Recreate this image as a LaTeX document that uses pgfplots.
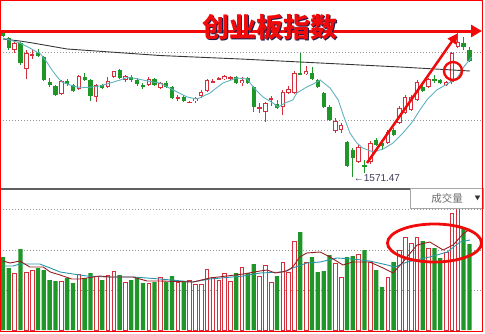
\documentclass[border=0pt]{standalone}
\usepackage{pgfplots}
\pgfplotsset{compat=1.18}
\usepackage{pgfplotstable}
\usepackage{fontspec}
\setmainfont{Liberation Sans}
\newfontfamily\cjk{Noto Sans CJK SC}
\usetikzlibrary{arrows.meta}

\definecolor{kgreen}{RGB}{30,150,40}
\definecolor{kred}{RGB}{214,46,58}
\definecolor{maline}{RGB}{95,178,192}
\definecolor{longma}{RGB}{55,55,55}
\definecolor{vmaroon}{RGB}{150,30,35}
\definecolor{vteal}{RGB}{40,150,170}
\definecolor{gridgray}{RGB}{150,150,150}
\definecolor{markred}{RGB}{240,10,10}
\definecolor{shadow}{RGB}{20,30,80}

% daily candles: index, open, high, low, close, volume
\pgfplotstableread{
x  o       h       l       c       v
0  1861.5  1865.5  1851.5  1853.5  73
1  1849.5  1851.5  1825.5  1829.5  62
3  1839.5  1841.5  1795.5  1799.5  81
6  1819.5  1827.5  1811.5  1813.5  62
7  1811.5  1813.5  1763.5  1765.5  60
8  1761.5  1769.5  1751.5  1755.5  50
9  1753.5  1755.5  1733.5  1735.5  49
11 1763.5  1767.5  1753.5  1757.5  52
12 1755.5  1757.5  1741.5  1743.5  47
14 1771.5  1779.5  1763.5  1765.5  52
15 1765.5  1767.5  1723.5  1733.5  57
17 1755.5  1757.5  1747.5  1749.5  50
20 1785.5  1787.5  1767.5  1769.5  55
22 1771.5  1775.5  1761.5  1765.5  50
23 1765.5  1769.5  1753.5  1757.5  52
24 1755.5  1759.5  1747.5  1753.5  47
26 1767.5  1769.5  1753.5  1755.5  48
28 1759.5  1763.5  1749.5  1751.5  48
29 1751.5  1753.5  1727.5  1729.5  54
31 1731.5  1735.5  1721.5  1723.5  49
40 1771.5  1773.5  1757.5  1759.5  57
42 1769.5  1771.5  1757.5  1759.5  57
43 1751.5  1753.5  1701.5  1711.5  66
47 1717.5  1725.5  1707.5  1709.5  54
51 1779.5  1819.5  1775.5  1776.5  98
53 1779.5  1791.5  1765.5  1767.5  73
54 1765.5  1767.5  1749.5  1751.5  58
55 1739.5  1741.5  1709.5  1711.5  59
56 1711.5  1715.5  1683.5  1685.5  75
59 1641.5  1643.5  1591.5  1593.5  73
60 1625.5  1629.5  1571.47 1609.5  74
62 1595.5  1605.5  1579.5  1591.5  80
64 1645.5  1649.5  1633.5  1635.5  60
65 1639.5  1641.5  1625.5  1633.5  43
67 1665.5  1669.5  1653.5  1655.5  68
72 1751.5  1761.5  1741.5  1743.5  89
74 1767.5  1775.5  1759.5  1763.5  82
75 1765.5  1767.5  1757.5  1759.5  72
79 1839.5  1851.5  1825.5  1831.5  103
80 1825.5  1831.5  1801.5  1803.5  86
}\downT

\pgfplotstableread{
x  o       h       l       c       v
2  1825.5  1845.5  1819.5  1839.5  57
4  1787.5  1825.5  1767.5  1819.5  58
5  1815.5  1825.5  1807.5  1817.5  60
10 1737.5  1765.5  1735.5  1763.5  49
13 1747.5  1775.5  1745.5  1773.5  56
16 1731.5  1757.5  1721.5  1755.5  54
18 1751.5  1771.5  1749.5  1763.5  55
19 1771.5  1783.5  1769.5  1783.5  59
21 1765.5  1775.5  1761.5  1773.5  48
25 1755.5  1771.5  1753.5  1767.5  47
27 1749.5  1761.5  1747.5  1759.5  52.5
30 1729.5  1735.5  1723.5  1731.5  48
32 1720.5  1723.5  1719.5  1721.5  50
33 1723.5  1731.5  1719.5  1729.5  46
34 1733.5  1745.5  1729.5  1741.5  46
35 1743.5  1767.5  1741.5  1765.5  61
36 1761.5  1767.5  1759.5  1763.5  53
37 1767.5  1771.5  1765.5  1769.5  50
38 1767.5  1775.5  1765.5  1773.5  57
39 1767.5  1773.5  1765.5  1771.5  49
41 1759.5  1771.5  1753.5  1765.5  63
44 1709.5  1719.5  1699.5  1711.5  54
45 1701.5  1721.5  1681.5  1719.5  65
46 1725.5  1733.5  1713.5  1729.5  48
48 1711.5  1745.5  1695.5  1741.5  68
49 1739.5  1753.5  1737.5  1747.5  58
50 1739.5  1783.5  1737.5  1779.5  89
52 1777.5  1793.5  1775.5  1783.5  68
57 1663.5  1689.5  1659.5  1683.5  67
58 1665.5  1679.5  1659.5  1675.5  53
61 1601.5  1635.5  1599.5  1631.5  76
63 1601.5  1643.5  1597.5  1639.5  68
66 1639.5  1665.5  1637.5  1661.5  53
68 1679.5  1713.5  1677.5  1709.5  80
69 1699.5  1735.5  1697.5  1731.5  93
70 1705.5  1735.5  1703.5  1731.5  87
71 1725.5  1765.5  1723.5  1761.5  93
73 1751.5  1769.5  1749.5  1767.5  82
76 1755.5  1763.5  1753.5  1761.5  78
77 1761.5  1821.5  1757.5  1819.5  117
78 1831.5  1859.5  1829.5  1841.5  122
}\upT

\pgfplotsset{
  panel/.style={scale only axis, anchor=south west,
    xmin=-0.515, xmax=82.33,
    axis line style={draw=none}, tick style={draw=none},
    xtick=\empty, yticklabels={}, ymajorgrids,
    grid style={color=gridgray, line width=0.9pt, dash pattern=on 1.2pt off 1.8pt}},
  bars/.style={draw=none, mark=none, forget plot,
    error bars/y dir=both, error bars/y explicit, error bars/error mark=none,
    error bars/error bar style={draw=#1}},
}

\begin{document}
\begin{tikzpicture}[x=1pt, y=1pt]
\useasboundingbox (0pt,0pt) rectangle (485pt,333pt);

% price panel
\begin{axis}[panel, at={(0pt,144pt)}, width=483pt, height=189pt,
  ymin=1547.5, ymax=1925.5, ytick={1684,1820}]
  % falling days: filled green
  \addplot[bars=kgreen, error bars/error bar style={line width=0.9pt}]
    table[x=x, y expr={(\thisrow{h}+\thisrow{l})/2}, y error expr={(\thisrow{h}-\thisrow{l})/2}] {\downT};
  \addplot[bars=kgreen, error bars/error bar style={line width=4.2pt}]
    table[x=x, y expr={(\thisrow{o}+\thisrow{c})/2}, y error expr={max(abs(\thisrow{o}-\thisrow{c})/2,0.6)}] {\downT};
  % rising days: hollow red
  \addplot[bars=kred, error bars/error bar style={line width=0.9pt}]
    table[x=x, y expr={(\thisrow{h}+\thisrow{l})/2}, y error expr={(\thisrow{h}-\thisrow{l})/2}] {\upT};
  \addplot[bars=kred, error bars/error bar style={line width=4.4pt}]
    table[x=x, y expr={(\thisrow{o}+\thisrow{c})/2}, y error expr={max(abs(\thisrow{o}-\thisrow{c})/2,0.6)}] {\upT};
  \addplot[bars=white, error bars/error bar style={line width=2.4pt}]
    table[x=x, y expr={(\thisrow{o}+\thisrow{c})/2}, y error expr={max(abs(\thisrow{o}-\thisrow{c})/2-2,0)}] {\upT};
  % moving averages
  \addplot[no marks, color=longma, line width=0.9pt] coordinates {
    (0,1847.5) (2.9,1843.5) (5.1,1839.5) (11,1827.5) (18.4,1821.5) (26.9,1814.5)
    (40.7,1807.5) (54.4,1799.5) (68.1,1791.5) (80.1,1783.5)};
  \addplot[no marks, color=maline, line width=0.9pt] coordinates {
    (0,1849.5) (2.9,1839.5) (4.6,1829.5) (5.8,1821.5) (6.3,1819.5) (7.5,1801.5)
    (8.4,1785.5) (9.3,1771.5) (10.1,1761.5) (11.5,1755.5) (12.7,1751.5) (14.4,1750.5)
    (16.6,1753.5) (18.4,1759.5) (20.1,1765.5) (21.3,1770.5) (22.3,1769.5) (24,1765.5)
    (25.7,1761.5) (26.9,1759.5) (29.2,1745.5) (31.6,1731.5) (33.3,1727.5) (35.5,1739.5)
    (37.7,1759.5) (40.1,1769.5) (41.9,1767.5) (42.9,1751.5) (44.6,1731.5) (46.3,1719.5)
    (47.2,1711.5) (48.4,1719.5) (49.7,1725.5) (50.4,1739.5) (52.1,1751.5) (53.2,1757.5)
    (54.4,1765.5) (56.1,1749.5) (57.5,1725.5) (58.3,1697.5) (59.5,1659.5) (60.7,1639.5)
    (61.7,1629.5) (63.5,1621.5) (65.2,1627.5) (66.9,1639.5) (68.6,1659.5) (70.2,1681.5)
    (71.5,1705.5) (72.7,1725.5) (74.4,1745.5) (76.2,1757.5) (77.9,1769.5) (78.9,1789.5)
    (80.4,1811.5)};
  \node[anchor=west, inner sep=0pt, text={rgb,255:red,60;green,60;blue,85},
    font=\fontsize{10}{10}\selectfont] at (axis cs:60.15,1569.5) {←1571.47};
\end{axis}

% volume panel
\begin{axis}[panel, at={(0pt,3pt)}, width=483pt, height=141pt,
  ymin=0, ymax=141, ytick={40,80,121}]
  \addplot[ybar, bar width=4.3pt, bar shift=0pt, fill=kgreen, draw=none]
    table[x=x, y=v] {\downT};
  \addplot[ybar, bar width=3.6pt, bar shift=0pt, fill=white, draw=kred, line width=0.8pt]
    table[x=x, y=v] {\upT};
  \addplot[no marks, color=vteal, line width=0.9pt] coordinates {
    (0,64) (1.7,64) (2.9,66) (6.3,66) (8.1,62) (9.8,58) (12,56) (14.4,54) (17.8,53)
    (22.3,53) (24.7,52) (26.9,51) (32.6,48) (35.5,51) (41.2,54) (44.1,57) (48,58)
    (49.7,62) (52.1,67) (54.4,68) (57.3,72) (60,71) (62.9,69) (65.9,65) (67.2,63)
    (69.3,68) (73.2,73) (76.2,78) (78.4,88) (80.1,90)};
  \addplot[no marks, color=vmaroon, line width=0.9pt] coordinates {
    (0,69) (1.2,67) (2.9,69) (4.6,63) (6.9,63) (8.1,58) (9.8,55) (11.8,51) (13.2,51)
    (14.4,52) (16.6,54) (18.4,53) (22.3,53) (24.7,49) (26.9,49) (32.6,48) (35.5,52)
    (38.4,54) (41.2,56) (44.1,59) (45.3,60) (46.7,57) (48.7,59) (49.7,63) (50.9,73)
    (52.1,77) (54.4,78) (56.1,73) (58.3,65) (60,68) (62.9,68) (65.2,62) (66.9,57)
    (68.6,68) (71,85) (73.2,88) (75.5,80) (77.2,85) (78.9,96) (80.1,101)};
\end{axis}

% panel separator and volume caption box
\draw[color={rgb,255:red,95;green,95;blue,95}, line width=1.6pt] (0,144) -- (483,144);
\draw[color=gray!70, line width=0.8pt, fill=white] (410,125) rectangle (483,144.8);
\node[font=\cjk\fontsize{10.5}{11}\selectfont, text=gray!85!black] at (447,134.5) {成交量};
\node[font=\cjk\fontsize{6}{6}\selectfont, text=black!80] at (477.5,134.5) {▼};

% annotations
\draw[markred, line width=3pt, -{Triangle[length=11pt, width=12pt]}] (0,302) -- (482,302);
\node[font=\cjk\bfseries\fontsize{27}{27}\selectfont, text=shadow] at (271.4,304.6) {创业板指数};
\node[font=\cjk\bfseries\fontsize{27}{27}\selectfont, text=markred] at (270,306) {创业板指数};
\draw[markred, line width=2.5pt, -{Triangle[length=10pt, width=10pt]}] (367,170) -- (457.5,299.5);
\draw[markred, line width=2.4pt] (453,262) circle (9);
\draw[markred, line width=2.8pt] (434.5,90) ellipse (47 and 19);

% outer frame
\draw[red, line width=1.2pt] (0.6,1.8) rectangle (482.6,332.4);
\end{tikzpicture}
\end{document}
